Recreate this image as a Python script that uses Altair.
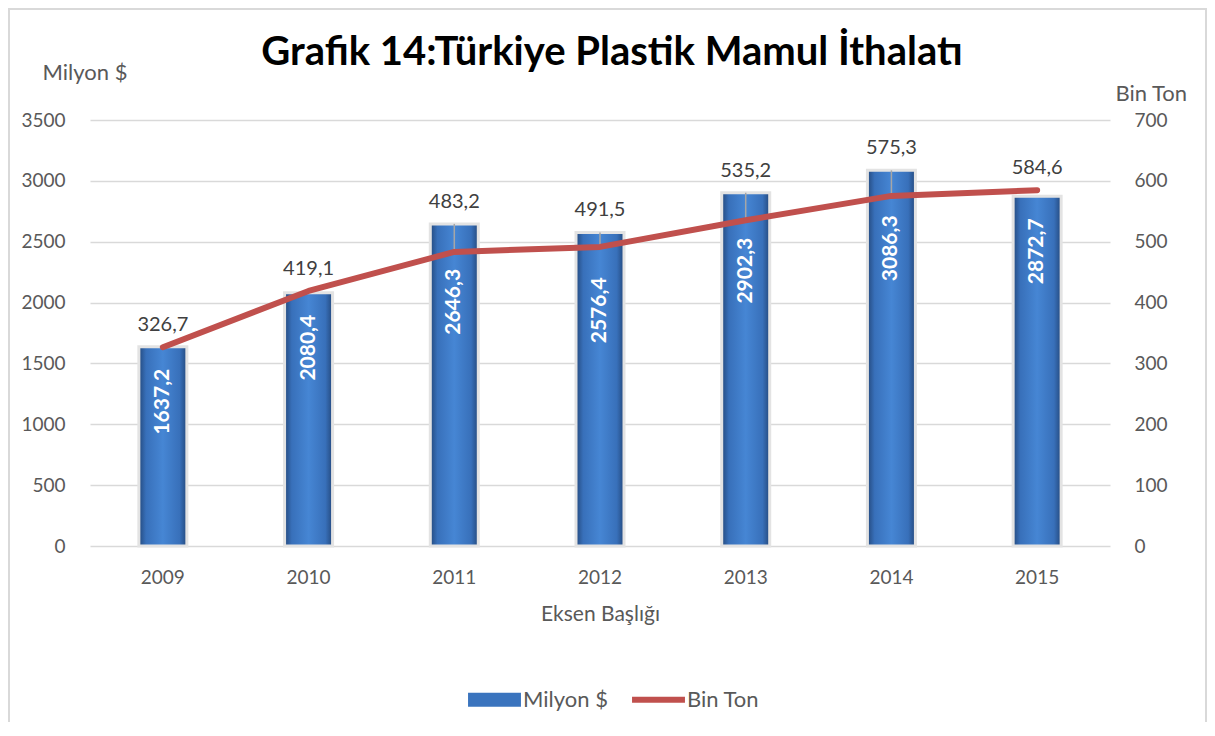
import altair as alt
import pandas as pd

years = ["2009", "2010", "2011", "2012", "2013", "2014", "2015"]
milyon_usd = [1637.2, 2080.4, 2646.3, 2576.4, 2902.3, 3086.3, 2872.7]
bin_ton = [326.7, 419.1, 483.2, 491.5, 535.2, 575.3, 584.6]
series_names = ["Milyon $", "Bin Ton"]

def tr(v):
    return f"{v:.1f}".replace(".", ",")

df = pd.DataFrame({
    "year": years,
    "usd": milyon_usd,
    "ton": bin_ton,
    "usd_lbl": [tr(v) for v in milyon_usd],
    "ton_lbl": [tr(v) for v in bin_ton],
})
leg_df = pd.DataFrame({"series": series_names})

FONT = "Lato"
GRAY = "#595959"
W, H = 1020, 426
LEADER = "datum.usd / 5 > datum.ton + 20"

x_enc = alt.X("year:N", sort=years,
              scale=alt.Scale(paddingInner=0, paddingOuter=0),
              axis=alt.Axis(title="Eksen Başlığı", labelAngle=0, ticks=False,
                            domain=False, labelPadding=22, labelFontSize=19,
                            titleFontSize=21, titleFontWeight="normal",
                            titlePadding=16, labelColor=GRAY, titleColor=GRAY,
                            labelFont=FONT, titleFont=FONT))

y_left = alt.Y("usd:Q", scale=alt.Scale(domain=[0, 3500], nice=False),
               axis=alt.Axis(title="Milyon $", values=list(range(0, 3501, 500)),
                             format="d",
                             ticks=False, domain=False, labelPadding=25,
                             grid=True, gridColor="#D9D9D9", gridWidth=1.5,
                             labelFontSize=19, labelColor=GRAY, labelFont=FONT,
                             titleAngle=0, titleAlign="left", titleBaseline="middle",
                             titleX=-48, titleY=-48, titleFontSize=22,
                             titleFontWeight="normal", titleColor=GRAY, titleFont=FONT))

gradient = alt.Gradient(
    gradient="linear", x1=0, x2=1, y1=0, y2=0,
    stops=[alt.GradientStop(color="#24497D", offset=0),
           alt.GradientStop(color="#3870BA", offset=0.15),
           alt.GradientStop(color="#4686D4", offset=0.5),
           alt.GradientStop(color="#3870BA", offset=0.85),
           alt.GradientStop(color="#24497D", offset=1)])

bars = alt.Chart(df).mark_bar(size=48, color=gradient, stroke="#E3E3E3",
                              strokeWidth=3).encode(x=x_enc, y=y_left)

text_style = dict(angle=270, align="right", baseline="middle", color="white",
                  fontWeight="bold", fontSize=21, font=FONT)
bar_enc = dict(x=alt.X("year:N", sort=years), y=alt.Y("usd:Q"), text="usd_lbl:N")

bar_text_a = alt.Chart(df).transform_filter("!(" + LEADER + ")").mark_text(
    dx=-22, **text_style).encode(**bar_enc)
bar_text_b = alt.Chart(df).transform_filter(LEADER).mark_text(
    dx=-45, **text_style).encode(**bar_enc)

left_layer = alt.layer(bars, bar_text_a, bar_text_b)

y_right = alt.Y("ton:Q", scale=alt.Scale(domain=[0, 700], nice=False),
                axis=alt.Axis(title="Bin Ton", orient="right",
                              values=list(range(0, 701, 100)), ticks=False,
                              domain=False, grid=False, labelPadding=24,
                              labelFontSize=19, labelColor=GRAY, labelFont=FONT,
                              titleAngle=0, titleAlign="left", titleBaseline="middle",
                              titleX=5, titleY=-27, titleFontSize=22,
                              titleFontWeight="normal", titleColor=GRAY, titleFont=FONT))

base_r = alt.Chart(df).transform_calculate(
    bar_top="datum.usd / 5",
    lbl_pos="max(datum.ton, datum.usd / 5)")

leaders = base_r.transform_filter(LEADER).mark_rule(
    color="#A6A6A6", strokeWidth=1.5).encode(
    x=alt.X("year:N", sort=years), y=alt.Y("ton:Q"), y2="bar_top:Q")

line = alt.Chart(df).mark_line(color="#C0504D", strokeWidth=6,
                               strokeCap="round", strokeJoin="round").encode(
    x=alt.X("year:N", sort=years), y=y_right)

line_text = base_r.mark_text(dy=-22, color="#404040", fontSize=20,
                             font=FONT).encode(
    x=alt.X("year:N", sort=years), y=alt.Y("lbl_pos:Q"), text="ton_lbl:N")

leg = alt.Legend(title=None, orient="none", direction="horizontal",
                 legendX=378, legendY=553, symbolSize=2800,
                 symbolStrokeWidth=0, labelFontSize=22,
                 labelColor=GRAY, labelFont=FONT,
                 columnPadding=24, labelOffset=2)

legend_pts = alt.Chart(leg_df).transform_filter("false").mark_point(
    filled=True, opacity=1).encode(
    shape=alt.Shape("series:N",
                    scale=alt.Scale(domain=series_names,
                                    range=["M-1,-0.26H1V0.26H-1Z",
                                           "M-1,-0.11H1V0.11H-1Z"]),
                    legend=leg),
    color=alt.Color("series:N",
                    scale=alt.Scale(domain=series_names,
                                    range=["#3A74BE", "#C0504D"]),
                    legend=leg),
)

border = alt.Chart(leg_df).transform_filter("datum.series == 'Milyon $'").mark_rect(
    fill=None, fillOpacity=0, stroke="#D9D9D9", strokeWidth=2).encode(
    x=alt.value(-81), x2=alt.value(1116), y=alt.value(-111), y2=alt.value(640))

right_layer = alt.layer(leaders, line, line_text)

chart = alt.layer(border, left_layer, right_layer, legend_pts).resolve_scale(
    y="independent").properties(
    width=W, height=H,
    autosize=alt.AutoSizeParams(type="none"),
    padding={"left": 82, "top": 112, "right": 97, "bottom": 176},
    title=alt.TitleParams("Grafik 14:Türkiye Plastik Mamul İthalatı",
                          fontSize=40, font=FONT, fontWeight="bold",
                          color="#000000", anchor="middle", dx=12, offset=-65),
).configure_view(stroke=None)

chart.save("out.html", embed_options={"renderer": "svg", "actions": False})
